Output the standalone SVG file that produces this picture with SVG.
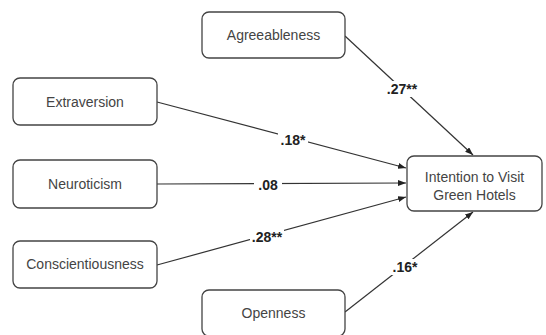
<svg xmlns="http://www.w3.org/2000/svg" width="546" height="335" viewBox="0 0 546 335">
<defs>
<marker id="arr" viewBox="0 0 8 6" refX="8" refY="3" markerWidth="8" markerHeight="6" markerUnits="userSpaceOnUse" orient="auto">
<path d="M0,0 L8,3 L0,6 z" fill="#222"/>
</marker>
<style>
.box{fill:#fff;stroke:#444;stroke-width:1.3}
.t{font-family:"Liberation Sans",Arial,sans-serif;font-size:14px;fill:#444;text-anchor:middle;dominant-baseline:central}
.e{stroke:#333;stroke-width:1.2;fill:none;marker-end:url(#arr)}
.lb{font-family:"Liberation Sans",Arial,sans-serif;font-size:14px;font-weight:bold;fill:#222;text-anchor:middle;dominant-baseline:central}
.bg{fill:#fff}
</style>
</defs>
<rect width="546" height="335" fill="#fff"/>
<g id="connectors">
<line class="e" x1="345" y1="36" x2="473" y2="155"/>
<line class="e" x1="157" y1="102" x2="406" y2="168"/>
<line class="e" x1="157" y1="184" x2="406" y2="183"/>
<line class="e" x1="157" y1="265" x2="406" y2="197"/>
<line class="e" x1="345" y1="312" x2="473" y2="212"/>
<rect class="bg" x="383" y="81" width="38" height="16"/>
<text class="lb" x="402" y="89">.27**</text>
<rect class="bg" x="278" y="132" width="30" height="16"/>
<text class="lb" x="293" y="140">.18*</text>
<rect class="bg" x="254" y="177" width="28" height="16"/>
<text class="lb" x="268" y="185">.08</text>
<rect class="bg" x="250" y="229" width="34" height="16"/>
<text class="lb" x="267" y="237">.28**</text>
<rect class="bg" x="390" y="259" width="30" height="16"/>
<text class="lb" x="405" y="267">.16*</text>
</g>
<g id="agreeableness"><rect class="box" x="202" y="12" width="143" height="46" rx="7"/><text class="t" x="273.5" y="35">Agreeableness</text></g>
<g id="extraversion"><rect class="box" x="13" y="78" width="144" height="47" rx="7"/><text class="t" x="85" y="102">Extraversion</text></g>
<g id="neuroticism"><rect class="box" x="13" y="160" width="144" height="48" rx="7"/><text class="t" x="85" y="184">Neuroticism</text></g>
<g id="conscientiousness"><rect class="box" x="13" y="241" width="144" height="47" rx="7"/><text class="t" x="85" y="264">Conscientiousness</text></g>
<g id="intention"><rect class="box" x="407" y="156" width="135" height="55" rx="7"/><text class="t" x="474.5" y="177">Intention to Visit</text><text class="t" x="474.5" y="195">Green Hotels</text></g>
<g id="openness"><rect class="box" x="202" y="290" width="143" height="46" rx="7"/><text class="t" x="273.5" y="313">Openness</text></g>
</svg>
